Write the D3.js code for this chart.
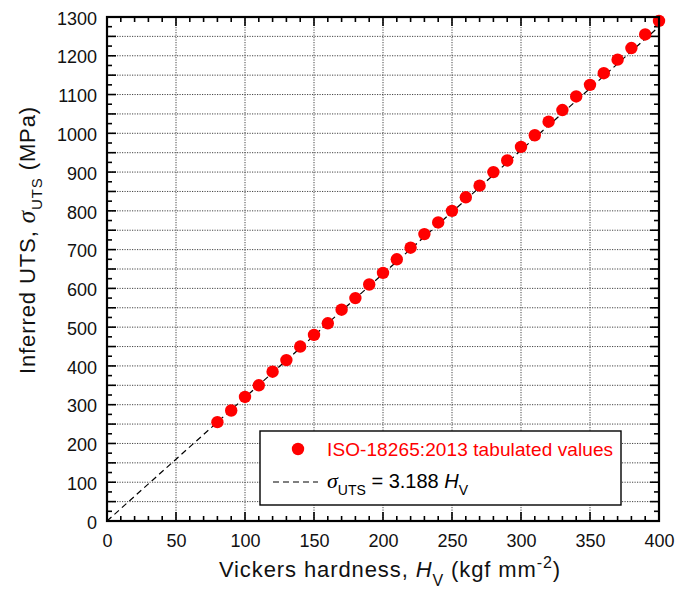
<!DOCTYPE html>
<html>
<head>
<meta charset="utf-8">
<script src="https://cdn.jsdelivr.net/npm/d3@7"></script>
<style>
  body { margin: 0; background: #fff; }
  svg text { font-family: "Liberation Sans", Arial, sans-serif; }
</style>
</head>
<body>
<svg id="chart" width="690" height="592"></svg>
<script>
// ISO-18265:2013 conversion table (steel): Vickers hardness vs. tensile strength
const hardness = [80, 90, 100, 110, 120, 130, 140, 150, 160, 170, 180, 190, 200, 210, 220, 230,
  240, 250, 260, 270, 280, 290, 300, 310, 320, 330, 340, 350, 360, 370, 380, 390, 400];
const uts = [255, 285, 320, 350, 385, 415, 450, 480, 510, 545, 575, 610, 640, 675, 705, 740,
  770, 800, 835, 865, 900, 930, 965, 995, 1030, 1060, 1095, 1125, 1155, 1190, 1220, 1255, 1290];
// Linear fit sigma_UTS = 3.188 Hv
const fitSlope = 3.188;
const fitRange = [0, 400];
const xTicks = [0, 50, 100, 150, 200, 250, 300, 350, 400];
const yTicks = [0, 100, 200, 300, 400, 500, 600, 700, 800, 900, 1000, 1100, 1200, 1300];

const svg = d3.select("#chart");
const L = 107, R = 659, T = 17, B = 521;

const x = d3.scaleLinear().domain([0, 400]).range([L, R]);
const y = d3.scaleLinear().domain([0, 1300]).range([B, T]);

// dotted grid
const grid = svg.append("g").attr("stroke", "#444").attr("stroke-width", 1)
  .attr("stroke-dasharray", "1.2,1.3");
d3.range(50, 400, 50).forEach(v => {
  grid.append("line").attr("x1", x(v)).attr("x2", x(v)).attr("y1", T).attr("y2", B);
});
d3.range(50, 1300, 50).forEach(v => {
  grid.append("line").attr("x1", L).attr("x2", R).attr("y1", y(v)).attr("y2", y(v));
});

// inward ticks on all four sides
const tk = svg.append("g").attr("stroke", "#000").attr("stroke-width", 1.6);
d3.range(0, 401, 10).forEach(v => {
  const len = v % 50 === 0 ? 9 : 5;
  tk.append("line").attr("x1", x(v)).attr("x2", x(v)).attr("y1", B).attr("y2", B - len);
  tk.append("line").attr("x1", x(v)).attr("x2", x(v)).attr("y1", T).attr("y2", T + len);
});
d3.range(0, 1301, 25).forEach(v => {
  const len = v % 50 === 0 ? 9 : 5;
  tk.append("line").attr("x1", L).attr("x2", L + len).attr("y1", y(v)).attr("y2", y(v));
  tk.append("line").attr("x1", R).attr("x2", R - len).attr("y1", y(v)).attr("y2", y(v));
});

// tick labels via axes
const xAxis = svg.append("g").attr("transform", `translate(0,${B})`)
  .call(d3.axisBottom(x).tickValues(xTicks).tickFormat(d3.format("d")).tickSize(0).tickPadding(13));
const yAxis = svg.append("g").attr("transform", `translate(${L},0)`)
  .call(d3.axisLeft(y).tickValues(yTicks).tickFormat(d3.format("d")).tickSize(0).tickPadding(10));
[xAxis, yAxis].forEach(a => {
  a.select(".domain").remove();
  a.selectAll("text").attr("font-size", 18).attr("fill", "#111")
    .style("font-family", "'Liberation Sans', Arial, sans-serif");
});
yAxis.selectAll("text").attr("dy", "0.4em");

// fit line
const line = d3.line().x(d => x(d)).y(d => y(fitSlope * d));
svg.append("path").datum(fitRange).attr("d", line)
  .attr("fill", "none").attr("stroke", "#000").attr("stroke-width", 1.2)
  .attr("stroke-dasharray", "6,4");

// tabulated points
svg.append("g").selectAll("circle").data(hardness).join("circle")
  .attr("cx", d => x(d)).attr("cy", (d, i) => y(uts[i])).attr("r", 6.2)
  .attr("fill", "#ff0000");

// frame
svg.append("rect").attr("x", L).attr("y", T).attr("width", R - L).attr("height", B - T)
  .attr("fill", "none").attr("stroke", "#000").attr("stroke-width", 2.2);

// legend
const lg = svg.append("g");
lg.append("rect").attr("x", 260).attr("y", 431).attr("width", 361).attr("height", 74)
  .attr("fill", "#fff").attr("stroke", "#000").attr("stroke-width", 1.4);
lg.append("circle").attr("cx", 298).attr("cy", 449).attr("r", 6.2).attr("fill", "#ff0000");
lg.append("text").attr("x", 327).attr("y", 456).attr("font-size", 19).attr("fill", "#ff0000")
  .attr("letter-spacing", 0.1)
  .text("ISO-18265:2013 tabulated values");
lg.append("line").attr("x1", 273).attr("x2", 318).attr("y1", 482).attr("y2", 482)
  .attr("stroke", "#000").attr("stroke-width", 1.2).attr("stroke-dasharray", "6,4");
const lt = lg.append("text").attr("x", 327).attr("y", 488).attr("font-size", 20).attr("fill", "#000");
lt.append("tspan").text("σ").attr("font-style", "italic").style("font-family", "'Liberation Serif', serif").attr("font-size", 22);
lt.append("tspan").text("UTS").attr("font-size", 14).attr("dy", 7);
lt.append("tspan").text(" = 3.188 ").attr("dy", -7);
lt.append("tspan").text("H").attr("font-style", "italic");
lt.append("tspan").text("V").attr("font-size", 14).attr("dy", 7);

// x axis title
const xt = svg.append("text").attr("x", 390).attr("y", 577).attr("text-anchor", "middle")
  .attr("font-size", 22).attr("letter-spacing", 0.9).attr("fill", "#111");
xt.append("tspan").text("Vickers hardness, ");
xt.append("tspan").text("H").attr("font-style", "italic");
xt.append("tspan").text("V").attr("font-size", 16).attr("dy", 9);
xt.append("tspan").text(" (kgf mm").attr("dy", -9);
xt.append("tspan").text("-2").attr("font-size", 16).attr("dy", -9);
xt.append("tspan").text(")").attr("dy", 9);

// y axis title
const yt = svg.append("text").attr("transform", "translate(35,240) rotate(-90)")
  .attr("text-anchor", "middle").attr("font-size", 22).attr("letter-spacing", 0.9).attr("fill", "#111");
yt.append("tspan").text("Inferred UTS, ");
yt.append("tspan").text("σ").attr("font-style", "italic").style("font-family", "'Liberation Serif', serif").attr("font-size", 25);
yt.append("tspan").text("UTS").attr("font-size", 15).attr("dy", 7);
yt.append("tspan").text(" (MPa)").attr("dy", -7);
</script>
</body>
</html>
